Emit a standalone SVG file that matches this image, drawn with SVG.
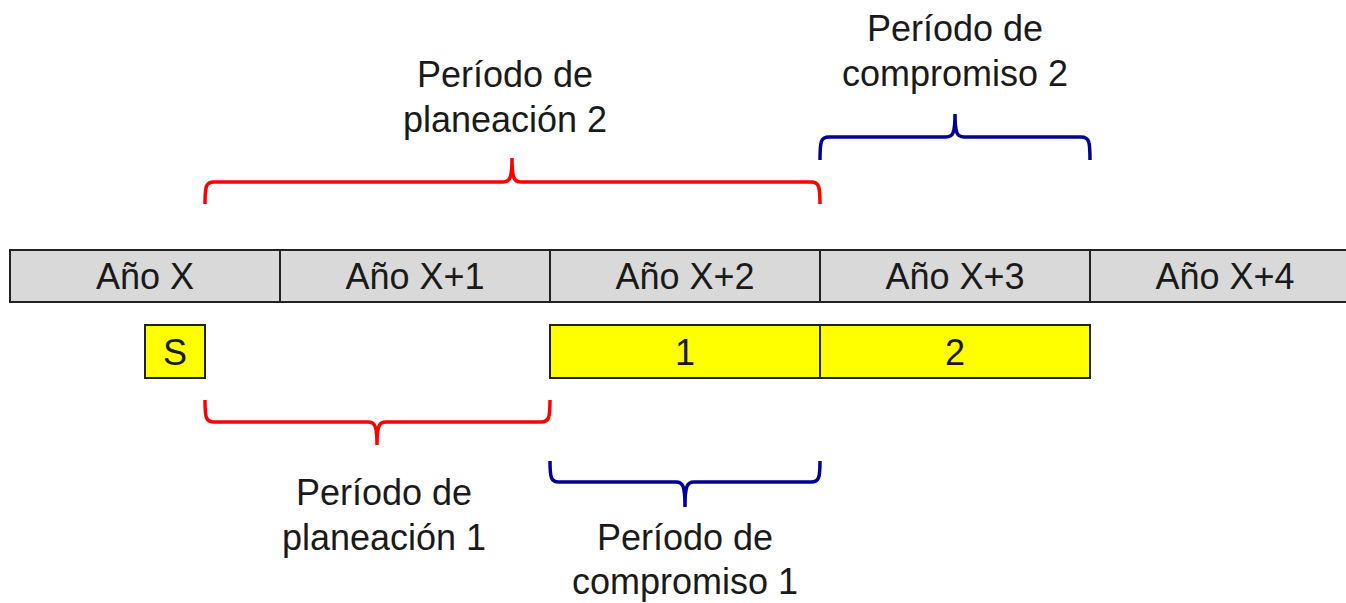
<svg xmlns="http://www.w3.org/2000/svg" width="1346" height="603" viewBox="0 0 1346 603">
<style>
.cell{fill:#d9d9d9;stroke:#222;stroke-width:2}
.box{fill:#ffff00;stroke:#222;stroke-width:2}
text{font-family:"Liberation Sans",Arial,sans-serif;font-size:36px;fill:#1a1a1a;text-anchor:middle}
.red{fill:none;stroke:#ff0000;stroke-width:3.5}
.blue{fill:none;stroke:#000099;stroke-width:3.5}
</style>
<rect width="1346" height="603" fill="#fff"/>
<g id="year-x"><rect class="cell" x="10" y="250" width="270" height="52"/><text x="145" y="289">Año X</text></g>
<g id="year-x1"><rect class="cell" x="280" y="250" width="270" height="52"/><text x="415" y="289">Año X+1</text></g>
<g id="year-x2"><rect class="cell" x="550" y="250" width="270" height="52"/><text x="685" y="289">Año X+2</text></g>
<g id="year-x3"><rect class="cell" x="820" y="250" width="270" height="52"/><text x="955" y="289">Año X+3</text></g>
<g id="year-x4"><rect class="cell" x="1090" y="250" width="270" height="52"/><text x="1225" y="289">Año X+4</text></g>
<g id="box-s"><rect class="box" x="145" y="325" width="60" height="53"/><text x="175" y="365">S</text></g>
<g id="box-1"><rect class="box" x="550" y="325" width="270" height="53"/><text x="685" y="365">1</text></g>
<g id="box-2"><rect class="box" x="820" y="325" width="270" height="53"/><text x="955" y="365">2</text></g>
<g id="label-plan2"><text x="505" y="87">Período de</text><text x="505" y="132">planeación 2</text></g>
<g id="label-comp2"><text x="955" y="41">Período de</text><text x="955" y="86">compromiso 2</text></g>
<g id="label-plan1"><text x="384" y="505">Período de</text><text x="384" y="550">planeación 1</text></g>
<g id="label-comp1"><text x="685" y="550">Período de</text><text x="685" y="594">compromiso 1</text></g>
<g id="connectors">
<path class="red" d="M205,204 C205,186 206,182 214,182 H503 C510,182 512,178 512,158 C512,178 514,182 521,182 H811 C819,182 820,186 820,204"/>
<path class="blue" d="M820,160 C820,141 821,137 829,137 H946 C953,137 955,133 955,114 C955,133 957,137 964,137 H1081 C1089,137 1090,141 1090,160"/>
<path class="red" d="M205,400 C205,418 206,422 214,422 H368 C375,422 377,426 377,445 C377,426 379,422 386,422 H541 C549,422 550,418 550,400"/>
<path class="blue" d="M550,461 C550,478 551,482 559,482 H676 C683,482 685,486 685,507 C685,486 687,482 694,482 H811 C819,482 820,478 820,461"/>
</g>
</svg>
